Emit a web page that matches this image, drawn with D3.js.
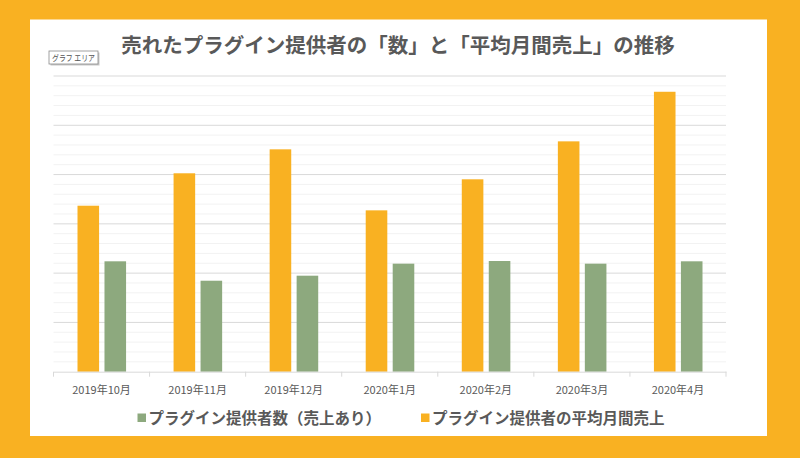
<!DOCTYPE html>
<html><head><meta charset="utf-8">
<script src="https://cdnjs.cloudflare.com/ajax/libs/d3/7.8.5/d3.min.js"></script>
<style>
html,body{margin:0;padding:0;background:#F9B122;}
svg{display:block;}
text{font-family:"Noto Sans CJK JP","Noto Sans",sans-serif;}
</style></head>
<body>
<script>
const categories = ["2019年10月","2019年11月","2019年12月","2020年1月","2020年2月","2020年3月","2020年4月"];
const avgSales = [16.84, 20.13, 22.56, 16.37, 19.52, 23.37, 28.4];
const sellerCount = [11.2, 9.23, 9.74, 10.96, 11.23, 10.96, 11.2];
const seriesNames = ["プラグイン提供者数（売上あり）", "プラグイン提供者の平均月間売上"];
const title = "売れたプラグイン提供者の「数」と「平均月間売上」の推移";
const yMax = 30, majorStep = 5;

(function(){
const W = 800, H = 458;
const orange = "#F9B122", green = "#8DA97E", textCol = "#595959";
const svg = d3.select("body").append("svg").attr("width", W).attr("height", H);
svg.append("rect").attr("width", W).attr("height", H).attr("fill", orange);
svg.append("rect").attr("x", 30).attr("y", 19.5).attr("width", 737).attr("height", 416.5).attr("fill", "#fff");

const pL = 53.5, pR = 726, pT = 76, pB = 371.7;
const x = d3.scaleBand().domain(categories).range([pL, pR]).paddingInner(0).paddingOuter(0);
const y = d3.scaleLinear().domain([0, yMax]).range([pB, pT]);
const inner = d3.scaleBand().domain([0, 1]).range([24, x.bandwidth() - 23.5]).paddingInner(0.2);

// gridlines
const ticks = d3.range(1, yMax + 1);
svg.append("g").selectAll("line").data(ticks).join("line")
  .attr("x1", pL).attr("x2", pR)
  .attr("y1", d => y(d)).attr("y2", d => y(d))
  .attr("stroke", d => d % majorStep === 0 ? "#D9D9D9" : "#F2F2F2")
  .attr("stroke-width", 1);

// bars
const series = [avgSales, sellerCount];
const colors = [orange, green];
series.forEach((vals, si) => {
  svg.append("g").selectAll("rect").data(vals).join("rect")
    .attr("x", (d, i) => x(categories[i]) + inner(si))
    .attr("width", inner.bandwidth())
    .attr("y", d => y(d))
    .attr("height", d => pB - y(d))
    .attr("fill", colors[si]);
});

// x axis
const xAxis = d3.axisBottom(x).tickSize(0).tickPadding(0);
const ax = svg.append("g").attr("transform", `translate(0,${pB})`).call(xAxis);
ax.select(".domain").attr("stroke", "#D9D9D9");
ax.selectAll(".tick text").attr("font-size", 11).attr("fill", textCol).attr("dy", 0).attr("y", 22);
const bounds = categories.map(c => x(c)).concat([pR]);
svg.append("g").selectAll("line").data(bounds).join("line")
  .attr("x1", d => d).attr("x2", d => d).attr("y1", pB).attr("y2", pB + 5)
  .attr("stroke", "#D9D9D9");

// title
svg.append("text").attr("x", 398).attr("y", 53).attr("text-anchor", "middle")
  .attr("font-size", 20.5).attr("font-weight", "bold").attr("fill", textCol).text(title);

// tooltip box
const tip = svg.append("g").attr("transform", "translate(49,51)");
tip.append("rect").attr("x", 1.5).attr("y", 1.5).attr("width", 49).attr("height", 13).attr("fill", "#C8C8C8");
tip.append("rect").attr("x", 0).attr("y", 0).attr("width", 49).attr("height", 13).attr("fill", "#fff").attr("stroke", "#8A8A8A").attr("stroke-width", 0.8);
tip.append("text").attr("x", 3).attr("y", 10).attr("font-size", 8.5)
  .attr("textLength", 43).attr("lengthAdjust", "spacingAndGlyphs").attr("fill", "#555").text("グラフ エリア");

// legend
const legendItems = [{name: seriesNames[0], color: green, x: 137.5}, {name: seriesNames[1], color: orange, x: 421}];
const lg = svg.append("g").selectAll("g").data(legendItems).join("g")
  .attr("transform", d => `translate(${d.x},418)`);
lg.append("rect").attr("x", 0).attr("y", -4.5).attr("width", 8.5).attr("height", 8.5).attr("fill", d => d.color);
lg.append("text").attr("x", 11).attr("y", 6).attr("font-size", 15.5).attr("font-weight", "bold")
  .attr("fill", textCol).text(d => d.name);
})();
</script>
</body></html>
